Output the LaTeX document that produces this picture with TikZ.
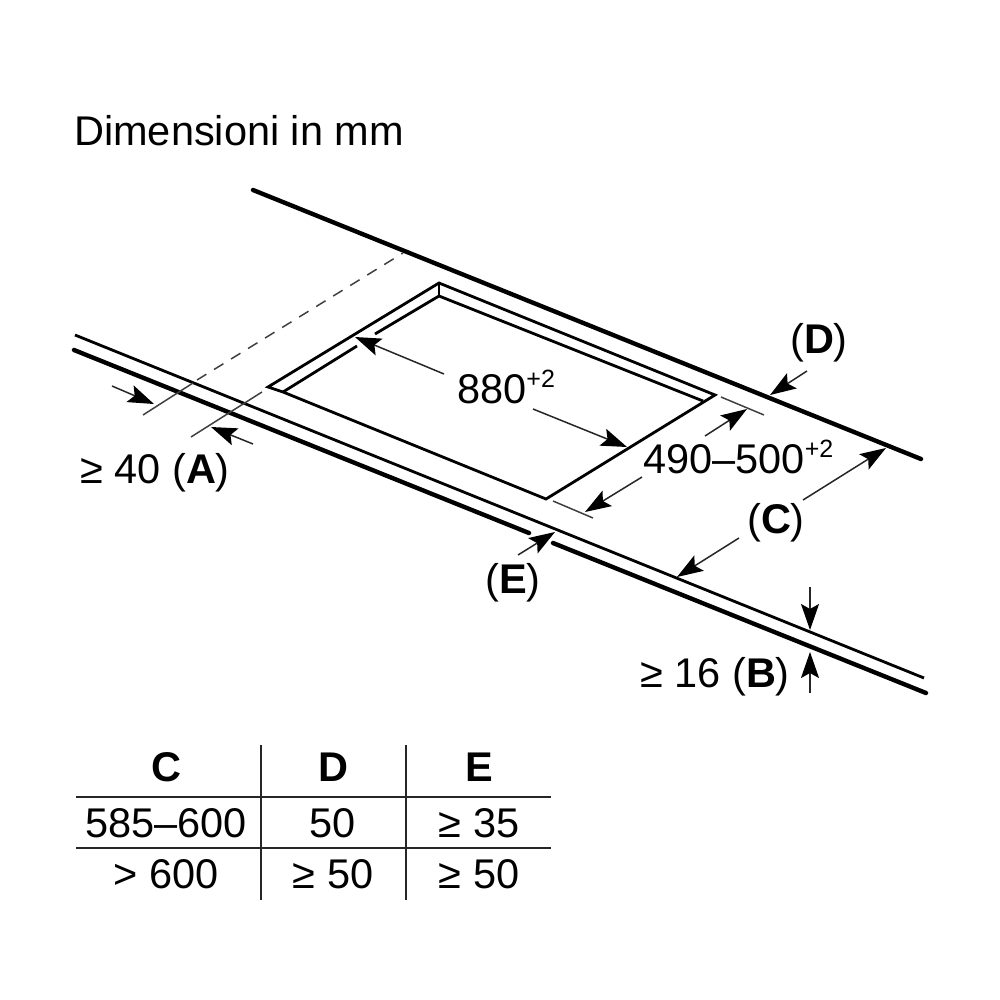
\documentclass[tikz,border=0pt]{standalone}
\usepackage{fontspec}
\setmainfont{Liberation Sans}
\usetikzlibrary{arrows.meta}
\newcommand{\upnote}[1]{\raisebox{16pt}{\fontsize{25}{25}\selectfont #1}}
\begin{document}
\begin{tikzpicture}[x=1pt,y=-1pt,>={Stealth[length=26pt,width=18pt,inset=5pt,color=black,fill=black]},
  lbl/.style={font=\fontsize{41.5}{41.5}\selectfont,inner sep=0pt,anchor=base},
  heavy/.style={line width=4.4pt,line cap=round},
  outline/.style={line width=2.8pt,line join=miter},
  faint/.style={line width=1.5pt,color=black!75},
  dimarrow/.style={->,line width=1.5pt,color=black!85},
  rule/.style={line width=2pt,color=black!85}]
\useasboundingbox (0,0) rectangle (1000,1000);

% worktop edges
\coordinate (backA) at (253,190);
\coordinate (backB) at (921,459);
\coordinate (topA) at (75,335);
\coordinate (topB) at (924,678);
\coordinate (lowA) at (74,350);
\coordinate (lowB) at (926,693);
\coordinate (gapA) at (529,533);
\coordinate (gapB) at (553,543);
\draw[heavy] (backA) -- (backB);
\draw[outline] (topA) -- (topB);
\draw[heavy] (lowA) -- (gapA);
\draw[heavy] (gapB) -- (lowB);

% cut-out
\coordinate (cutL) at (268,387);
\coordinate (cutT) at (439,283);
\coordinate (cutR) at (715,395);
\coordinate (cutB) at (546,499);
\coordinate (inL) at (283,392);
\coordinate (inT) at (439,296);
\coordinate (inR) at (703,401);
\coordinate (inA) at (357,346);
\coordinate (inC) at (375,334);
\draw[outline] (inL) -- (cutL) -- (cutT) -- (cutR) -- (cutB) -- cycle;
\draw[outline] (inL) -- (inA);
\draw[outline] (inC) -- (inT) -- (inR);
\draw[outline] (cutT) -- (inT);

% extension lines
\coordinate (extA) at (143,415);
\coordinate (extB) at (193,383);
\coordinate (extC) at (197,380);
\coordinate (extD) at (403,253);
\coordinate (extE) at (191,437);
\coordinate (extF) at (262,392);
\coordinate (extG) at (721,397);
\coordinate (extH) at (764,415);
\coordinate (extI) at (553,501);
\coordinate (extJ) at (593,518);
\draw[faint] (extA) -- (extB);
\draw[faint,dash pattern=on 11pt off 9pt] (extC) -- (extD);
\draw[faint] (extE) -- (extF);
\draw[faint] (extG) -- (extH);
\draw[faint] (extI) -- (extJ);

% labels
\node[lbl,anchor=base west] (title) at (74,146) {Dimensioni in mm};
\node[lbl] (labelA) at (155,483) {≥ 40 (\textbf{A})};
\node[lbl,anchor=base west] (width) at (457,403) {880\upnote{+2}};
\node[lbl,anchor=base west] (depth) at (643,473) {490–500\upnote{+2}};
\node[lbl] (labelD) at (819,353) {(\textbf{D})};
\node[lbl] (labelC) at (776,533) {(\textbf{C})};
\node[lbl] (labelE) at (513,593) {(\textbf{E})};
\node[lbl] (labelB) at (715,687) {≥ 16 (\textbf{B})};

% dimension arrows
\coordinate (a1) at (112,386);
\coordinate (a2) at (154,404);
\coordinate (a3) at (253,444);
\coordinate (a4) at (211,427);
\coordinate (w1) at (444,374);
\coordinate (w2) at (355,337);
\coordinate (w3) at (533,409);
\coordinate (w4) at (627,447);
\coordinate (d1) at (705,436);
\coordinate (d2) at (747,409);
\coordinate (d3) at (642,477);
\coordinate (d4) at (585,512);
\coordinate (e1) at (807,371);
\coordinate (e2) at (770,395);
\coordinate (c1) at (803,500);
\coordinate (c2) at (886,448);
\coordinate (c3) at (739,538);
\coordinate (c4) at (677,577);
\coordinate (f1) at (518,555);
\coordinate (f2) at (555,532);
\coordinate (b1) at (810,587);
\coordinate (b2) at (810,630);
\coordinate (b3) at (810,693);
\coordinate (b4) at (810,652);
\path[dimarrow]
(a1) edge (a2)
(a3) edge (a4)
(w1) edge (w2)
(w3) edge (w4)
(d1) edge (d2)
(d3) edge (d4)
(e1) edge (e2)
(c1) edge (c2)
(c3) edge (c4)
(f1) edge (f2)
(b1) edge (b2)
(b3) edge (b4);

% table
\coordinate (rowA) at (76,797);
\coordinate (rowB) at (551,797);
\coordinate (rowC) at (76,848);
\coordinate (rowD) at (551,848);
\coordinate (colA) at (261,745);
\coordinate (colB) at (261,900);
\coordinate (colC) at (406,745);
\coordinate (colD) at (406,900);
\draw[rule] (rowA) -- (rowB);
\draw[rule] (rowC) -- (rowD);
\draw[rule] (colA) -- (colB);
\draw[rule] (colC) -- (colD);
\node[lbl] (headC) at (166,781) {\textbf{C}};
\node[lbl] (headD) at (333,781) {\textbf{D}};
\node[lbl] (headE) at (479,781) {\textbf{E}};
\node[lbl] (cellA) at (166,837) {585–600};
\node[lbl] (cellB) at (333,837) {50};
\node[lbl] (cellC) at (479,837) {≥ 35};
\node[lbl] (cellD) at (166,888) {> 600};
\node[lbl] (cellE) at (333,888) {≥ 50};
\node[lbl] (cellF) at (479,888) {≥ 50};
\end{tikzpicture}
\end{document}
